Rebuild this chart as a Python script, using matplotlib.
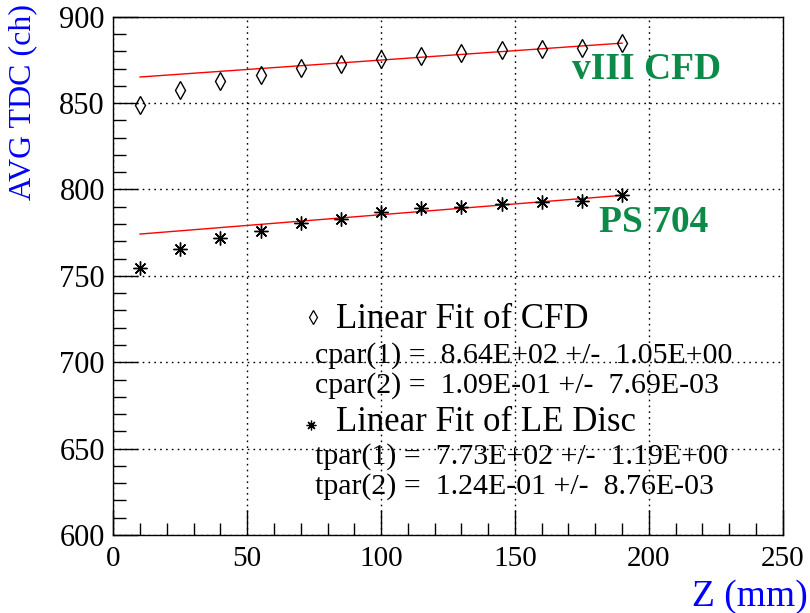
import matplotlib
matplotlib.use("Agg")
import matplotlib.pyplot as plt
from matplotlib.ticker import MultipleLocator

# Data
z_mm = [10, 25, 40, 55, 70, 85, 100, 115, 130, 145, 160, 175, 190]
cfd_tdc = [849.0, 857.7, 862.5, 866.5, 870.5, 872.8, 875.6, 877.5, 879.2, 880.6, 881.4, 881.8, 884.6]
le_tdc = [754.4, 765.8, 771.7, 776.0, 780.4, 783.1, 786.9, 789.0, 790.0, 791.7, 792.9, 793.2, 796.7]
fit_x = [10, 190]
cfd_fit = [865.1, 884.7]
le_fit = [774.2, 796.6]
fit_text_cfd = ["cpar(1) =  8.64E+02 +/-  1.05E+00", "cpar(2) =  1.09E-01 +/-  7.69E-03"]
fit_text_le = ["tpar(1) =  7.73E+02 +/-  1.19E+00", "tpar(2) =  1.24E-01 +/-  8.76E-03"]

plt.rcParams['font.family'] = ['Liberation Serif', 'DejaVu Serif']

fig = plt.figure(figsize=(8.1, 6.13), dpi=100)
ax = fig.add_axes([113.3/810, 1-535/613, (782.7-113.3)/810, (535-16.7)/613])

ax.set_xlim(0, 250)
ax.set_ylim(600, 900)

ax.xaxis.set_major_locator(MultipleLocator(50))
ax.xaxis.set_minor_locator(MultipleLocator(10))
ax.yaxis.set_major_locator(MultipleLocator(50))
ax.yaxis.set_minor_locator(MultipleLocator(10))
ax.tick_params(which='both', direction='in', top=False, right=False, color='black')
ax.tick_params(which='major', length=18, width=1)
ax.tick_params(which='minor', length=9, width=1)
ax.tick_params(axis='y', labelsize=22, pad=6)
ax.tick_params(axis='x', labelsize=21, pad=8)

ax.grid(True, which='major', color='black', linestyle=(0, (1.2, 3)), linewidth=1)
for s in ax.spines.values():
    s.set_linewidth(1.0)

ax.plot(fit_x, cfd_fit, color='red', lw=1.0, zorder=3)
ax.plot(fit_x, le_fit, color='red', lw=1.0, zorder=3)
ax.plot(z_mm, cfd_tdc, linestyle='none', marker='d', markersize=9, markerfacecolor='none',
        markeredgecolor='black', markeredgewidth=1.0, zorder=4)
ax.plot(z_mm, le_tdc, linestyle='none', marker=(8, 2, 0), markersize=10,
        markeredgecolor='black', markeredgewidth=1.0, zorder=4)

green = '#0b8a48'
ax.text(199, 869.3, 'vIII CFD', color=green, fontsize=27, fontweight='bold',
        ha='center', va='center')
ax.text(202, 781, 'PS 704', color=green, fontsize=27, fontweight='bold',
        ha='center', va='center')

# legend-like text block
ax.plot([74.7], [726], linestyle='none', marker='d', markersize=7, markerfacecolor='none',
        markeredgecolor='black', markeredgewidth=0.9)
ax.text(83, 724.5, 'Linear Fit of CFD', fontsize=25, ha='left', va='center')
ax.text(75.3, 704, fit_text_cfd[0], fontsize=21.5, ha='left', va='center')
ax.text(75.3, 686.5, fit_text_cfd[1], fontsize=21.5, ha='left', va='center')
ax.plot([74.0], [663.4], linestyle='none', marker=(8, 2, 0), markersize=7,
        markeredgecolor='black', markeredgewidth=0.9)
ax.text(83, 665.4, 'Linear Fit of LE Disc', fontsize=25, ha='left', va='center')
ax.text(75.3, 645.2, fit_text_le[0], fontsize=21.5, ha='left', va='center')
ax.text(75.3, 627.9, fit_text_le[1], fontsize=21.5, ha='left', va='center')

fig.text(23/810, 1-4/613, 'AVG TDC (ch)', color='blue', fontsize=23, rotation=90,
         ha='center', va='top')
fig.text(808/810, 1-597/613, 'Z (mm)', color='blue', fontsize=27, ha='right', va='center')

fig.savefig('out.png', dpi=100)
